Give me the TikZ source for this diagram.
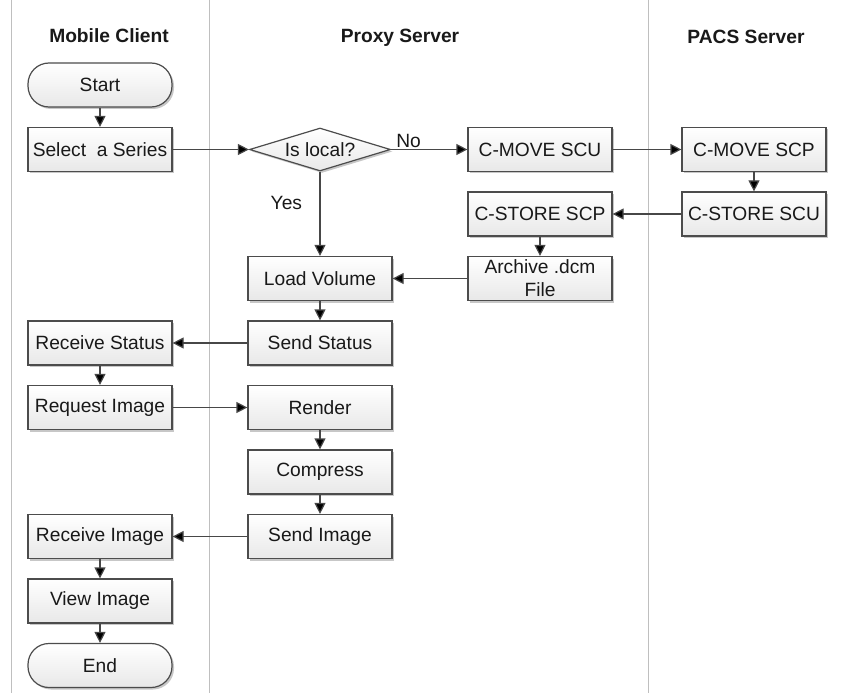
\documentclass[tikz,border=0pt]{standalone}
\usepackage{fontspec}
\setmainfont{Liberation Sans}
\usetikzlibrary{arrows.meta,positioning,shapes.geometric,shadows}

\begin{document}
\begin{tikzpicture}[x=1pt,y=1pt,node distance=64.5pt,
  every node/.style={font=\fontsize{19.2}{22}\selectfont, text=black!90},
  box/.style={draw=black!70, line width=1.2pt, top color=white, bottom color=black!9,
    minimum width=144pt, minimum height=44pt, inner sep=2pt,
    drop shadow={shadow xshift=2pt, shadow yshift=-2pt, opacity=0.22, fill=black}},
  term/.style={box, rounded corners=21pt},
  decision/.style={box, diamond, minimum width=141pt, minimum height=43pt,
    shape aspect=3.3, inner sep=0pt},
  lane/.style={draw=black!25, line width=1pt},
  title/.style={font=\fontsize{19.2}{22}\selectfont\bfseries},
  flow/.style={draw=black!72, line width=1.2pt, -{Triangle[length=11pt,width=11pt]}}]

  \useasboundingbox (0,0) rectangle (843,-695);

  % swim lanes
  \draw[lane] (11,0) -- (11,-693);
  \draw[lane] (209,0) -- (209,-693);
  \draw[lane] (648,0) -- (648,-693);

  \node[title] (mobile) at (109,-36) {Mobile Client};
  \node[title] (proxy)  at (400,-38) {Proxy Server};
  \node[title] (pacs)   at (746,-37) {PACS Server};

  \node[term]     (start)     at (100,-85)                           {Start};
  \node[box]      (sel)       [below of=start]                       {Select~\ a Series};
  \node[decision] (isloc)     [right of=sel, node distance=220pt]    {Is local?};
  \node[box]      (cmovescu)  [right of=isloc, node distance=220pt]  {C-MOVE SCU};
  \node[box]      (cmovescp)  [right of=cmovescu, node distance=214pt] {C-MOVE SCP};
  \node[box]      (cstorescu) [below of=cmovescp]                    {C-STORE SCU};
  \node[box]      (cstorescp) [left of=cstorescu, node distance=214pt] {C-STORE SCP};
  \node[box, align=center, font=\fontsize{19.2}{23}\selectfont]
                  (archive)   [below of=cstorescp]                   {Archive .dcm\\File};
  \node[box]      (load)      [left of=archive, node distance=220pt] {Load Volume};
  \node[box]      (sendst)    [below of=load]                        {Send Status};
  \node[box]      (recvst)    [left of=sendst, node distance=220pt]  {Receive Status};
  \node[box]      (reqimg)    [below of=recvst]                      {Request Image};
  \node[box]      (render)    [right of=reqimg, node distance=220pt] {Render};
  \node[box]      (compress)  [below of=render]                      {Compress};
  \node[box]      (sendimg)   [below of=compress]                    {Send Image};
  \node[box]      (recvimg)   [left of=sendimg, node distance=220pt] {Receive Image};
  \node[box]      (viewimg)   [below of=recvimg]                     {View Image};
  \node[term]     (end)       [below of=viewimg]                     {End};

  \path[flow]
        (start)     edge (sel)
        (sel)       edge (isloc)
        (isloc)     edge node[pos=0.23, above, inner sep=1pt] {No} (cmovescu)
        (isloc)     edge node[left=14pt, pos=0.37] {Yes} (load)
        (cmovescu)  edge (cmovescp)
        (cmovescp)  edge (cstorescu)
        (cstorescu) edge (cstorescp)
        (cstorescp) edge (archive)
        (archive)   edge (load)
        (load)      edge (sendst)
        (sendst)    edge (recvst)
        (recvst)    edge (reqimg)
        (reqimg)    edge (render)
        (render)    edge (compress)
        (compress)  edge (sendimg)
        (sendimg)   edge (recvimg)
        (recvimg)   edge (viewimg)
        (viewimg)   edge (end);
\end{tikzpicture}
\end{document}
